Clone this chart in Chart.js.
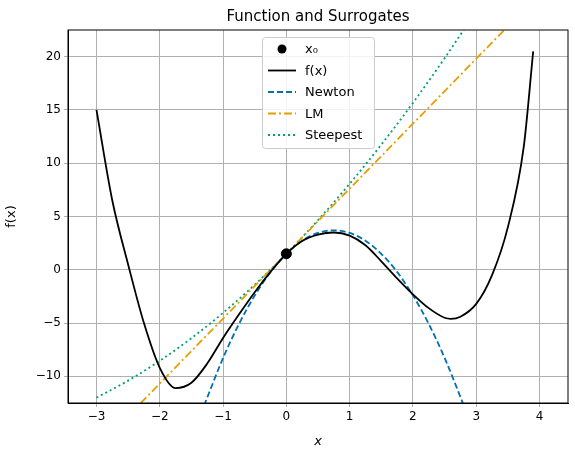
<!DOCTYPE html>
<html><head><script src="https://cdn.jsdelivr.net/npm/chart.js@4"></script>
<style>body{margin:0;background:#fff}</style></head>
<body><canvas id="c" width="575" height="453" style="width:575px;height:453px"></canvas>
<script>
const fX=[-3,-2.75,-2.5,-2.25,-2,-1.75,-1.5,-1.25,-1,-0.75,-0.5,-0.25,0,0.25,0.5,0.75,1,1.25,1.5,1.75,2,2.25,2.5,2.6,2.75,3,3.25,3.5,3.75,3.9];
const fY=[15,6.5,0.5,-5,-9.2,-11.1,-10.6,-8.8,-6.4,-4.2,-2.1,-0.2,1.5,2.7,3.3,3.5,3.2,2.3,0.8,-0.8,-2.3,-3.6,-4.5,-4.6,-4.4,-3.2,-0.5,4,11.5,20.5];
const nX=[-1.3,-1,-0.75,-0.5,-0.25,0,0.25,0.5,0.75,1,1.25,1.5,1.75,2,2.25,2.5,2.75,2.8];
const nY=[-12.74,-8.28,-5.1,-2.42,-0.21,1.5,2.73,3.46,3.7,3.46,2.73,1.5,-0.2,-2.4,-5.08,-8.26,-11.93,-12.7];
const lX=[-2.3,3.5];
const lY=[-12.5,22.85];
const sX=[-3,-2.5,-2,-1.5,-1,-0.5,0,0.5,1,1.5,2,2.5,3];
const sY=[-12,-10.4,-8.54,-6.42,-4.04,-1.4,1.5,4.66,8.07,11.74,15.66,19.85,24.29];
const x0=[0],y0=[1.5];
const pts=(xs,ys)=>xs.map((x,i)=>({x,y:ys[i]}));
const FONT='"DejaVu Sans"';
const items=[
 {t:'x₀',k:'dot'},{t:'f(x)',c:'#000',d:[]},{t:'Newton',c:'#0072B2',d:[6,3]},
 {t:'LM',c:'#E69F00',d:[8,3,2,3]},{t:'Steepest',c:'#009E73',d:[2,3]}];
const deco={id:'deco',afterDraw(ch){const g=ch.ctx,a=ch.chartArea;g.save();
 g.strokeStyle='#000';g.lineWidth=1;g.strokeRect(a.left,a.top,a.right-a.left,a.bottom-a.top);
 g.fillStyle='#000';g.font='15px '+FONT;g.textAlign='center';g.textBaseline='middle';
 g.fillText('Function and Surrogates',318,17);
 g.fillStyle='rgba(255,255,255,0.85)';g.strokeStyle='#ccc';g.lineWidth=1;
 g.beginPath();g.roundRect(262.5,37.5,112,111,3);g.fill();g.stroke();
 g.font='13px '+FONT;g.textAlign='left';
 items.forEach((it,i)=>{const y=49+i*21.5;
  if(it.k){g.fillStyle='#000';g.beginPath();g.arc(282,y,4.5,0,7);g.fill();}
  else{g.strokeStyle=it.c;g.lineWidth=1.8;g.setLineDash(it.d);g.beginPath();g.moveTo(268,y);g.lineTo(296,y);g.stroke();g.setLineDash([]);}
  g.fillStyle='#000';g.fillText(it.t,305,y+1);});
 g.restore();}};
const ds=(l,xs,ys,c,d)=>({label:l,data:pts(xs,ys),showLine:true,borderColor:c,borderDash:d,borderWidth:1.8,pointRadius:0,cubicInterpolationMode:'monotone'});
new Chart(document.getElementById('c'),{type:'scatter',
 data:{datasets:[
  {label:'x0',data:pts(x0,y0),pointRadius:5,backgroundColor:'#000',borderColor:'#000',order:-1},
  ds('f(x)',fX,fY,'#000',[]),
  ds('Newton',nX,nY,'#0072B2',[6,3]),
  {...ds('LM',lX,lY,'#E69F00',[8,3,2,3]),cubicInterpolationMode:'default',tension:0},
  ds('Steepest',sX,sY,'#009E73',[2,3])]},
 options:{responsive:false,animation:false,
  layout:{padding:{top:30,right:7,left:0,bottom:0}},
  plugins:{legend:{display:false},tooltip:{enabled:false}},
  scales:{
   x:{type:'linear',min:-3.45,max:4.45,afterFit(a){a.height=50},
    afterBuildTicks(a){a.ticks=[-3,-2,-1,0,1,2,3,4].map(v=>({value:v}))},
    grid:{color:'#b0b0b0',tickLength:4},border:{color:'#000'},
    ticks:{color:'#000',font:{family:FONT,size:12},callback:v=>String(v).replace('-','−')},
    title:{display:true,text:'x',color:'#000',font:{family:FONT,size:13,style:'italic'},padding:{top:2}}},
   y:{min:-12.5,max:22.5,afterFit(a){a.width=68},
    afterBuildTicks(a){a.ticks=[-10,-5,0,5,10,15,20].map(v=>({value:v}))},
    grid:{color:'#b0b0b0',tickLength:4},border:{color:'#000'},
    ticks:{color:'#000',font:{family:FONT,size:12},callback:v=>String(v).replace('-','−')},
    title:{display:true,text:'f(x)',color:'#000',font:{family:FONT,size:13},padding:{top:4,bottom:2}}}}},
 plugins:[deco]});
</script></body></html>
